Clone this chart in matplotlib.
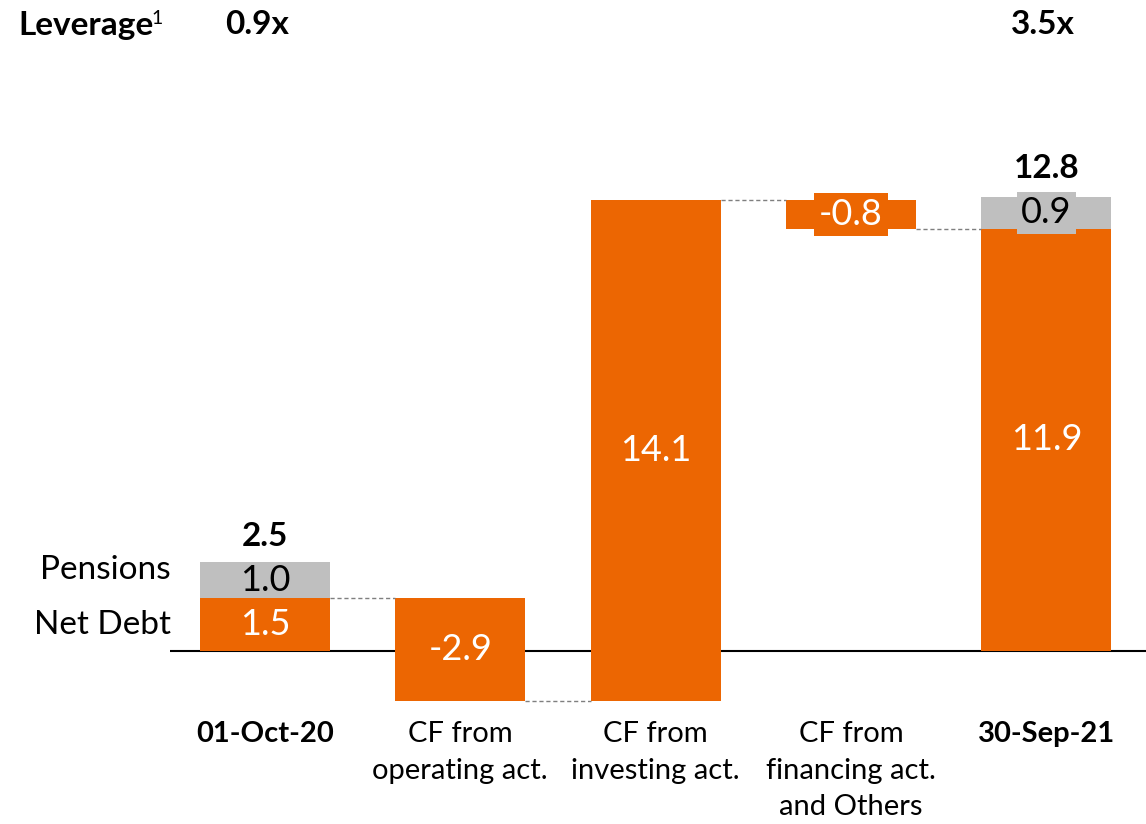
import matplotlib.pyplot as plt
import numpy as np

plt.rcParams['font.family'] = ['Lato', 'DejaVu Sans']

categories = ['01-Oct-20', 'CF from\noperating act.', 'CF from\ninvesting act.',
              'CF from\nfinancing act.\nand Others', '30-Sep-21']
net_debt_start = 1.5
pensions_start = 1.0
changes = [-2.9, 14.1, -0.8]
net_debt_end = 11.9
pensions_end = 0.9
totals = ['2.5', '12.8']
leverage = ['0.9x', '3.5x']

orange = '#EC6602'
grey = '#BFBFBF'
width = 0.665
fs = 24
vfs = 26

fig = plt.figure(figsize=(11.46, 8.24), dpi=100)
ax = fig.add_axes([0.1483, 0.1383, 0.8517, 0.7888])

x = np.arange(len(categories))

# start column
ax.bar(x[0], net_debt_start, width, color=orange)
ax.bar(x[0], pensions_start, width, bottom=net_debt_start, color=grey)

# floating bars
level = net_debt_start
levels = [level]
for i, c in enumerate(changes):
    new = level + c
    lo, hi = min(level, new), max(level, new)
    ax.bar(x[i + 1], hi - lo, width, bottom=lo, color=orange)
    mid = (lo + hi) / 2
    bbox = None
    if abs(c) < 1.2:
        bbox = dict(facecolor=orange, edgecolor='none', pad=4)
    ax.text(x[i + 1], mid, f'{c:.1f}', color='white', ha='center', va='center',
            fontsize=vfs, bbox=bbox)
    level = new
    levels.append(level)

# end column
ax.bar(x[4], net_debt_end, width, color=orange)
ax.bar(x[4], pensions_end, width, bottom=net_debt_end, color=grey)

# value labels
ax.text(x[0], net_debt_start / 2, f'{net_debt_start:.1f}', color='white',
        ha='center', va='center', fontsize=vfs)
ax.text(x[0], net_debt_start + pensions_start / 2, f'{pensions_start:.1f}',
        color='black', ha='center', va='center', fontsize=vfs)
ax.text(x[4], net_debt_end / 2, f'{net_debt_end:.1f}', color='white',
        ha='center', va='center', fontsize=vfs)
ax.text(x[4], net_debt_end + pensions_end / 2, f'{pensions_end:.1f}',
        color='black', ha='center', va='center', fontsize=vfs,
        bbox=dict(facecolor=grey, edgecolor='none', pad=3))

ax.annotate(totals[0], (x[0], net_debt_start + pensions_start), xytext=(0, 8),
            textcoords='offset points', ha='center', va='bottom',
            fontsize=fs, fontweight='bold')
ax.annotate(totals[1], (x[4], net_debt_end + pensions_end), xytext=(0, 10),
            textcoords='offset points', ha='center', va='bottom',
            fontsize=fs, fontweight='bold')

ax.text(x[0] - width / 2 - 0.15, 2.28, 'Pensions',
        ha='right', va='center', fontsize=fs)
ax.text(x[0] - width / 2 - 0.15, 0.73, 'Net Debt',
        ha='right', va='center', fontsize=fs, clip_on=False)

# connectors
for a in range(4):
    ax.plot([x[a] + width / 2, x[a + 1] - width / 2], [levels[a], levels[a]],
            color='#7F7F7F', lw=1, ls=(0, (3, 2)))

ax.axhline(0, color='black', lw=1.5, zorder=0)

ax.set_xlim(-0.486, 4.51)
ax.set_ylim(-1.662, 16.65)
ax.set_xticks(x)
ax.set_xticklabels(categories, fontsize=21, linespacing=1.5)
for i, lab in enumerate(ax.get_xticklabels()):
    if i in (0, 4):
        lab.set_fontweight('bold')
ax.tick_params(axis='x', length=0, pad=8)
ax.set_yticks([])
for s in ax.spines.values():
    s.set_visible(False)

# leverage row
fig.text(18 / 1146, 1 - 25 / 824, 'Leverage', fontsize=fs, fontweight='bold',
         va='center', ha='left')
fig.text(151 / 1146, 1 - 19 / 824, '1', fontsize=14, va='center', ha='left')
fig.text(257 / 1146, 1 - 25 / 824, leverage[0], fontsize=fs, fontweight='bold',
         va='center', ha='center')
fig.text(1043 / 1146, 1 - 25 / 824, leverage[1], fontsize=fs, fontweight='bold',
         va='center', ha='center')

fig.savefig('out.png', dpi=100)
